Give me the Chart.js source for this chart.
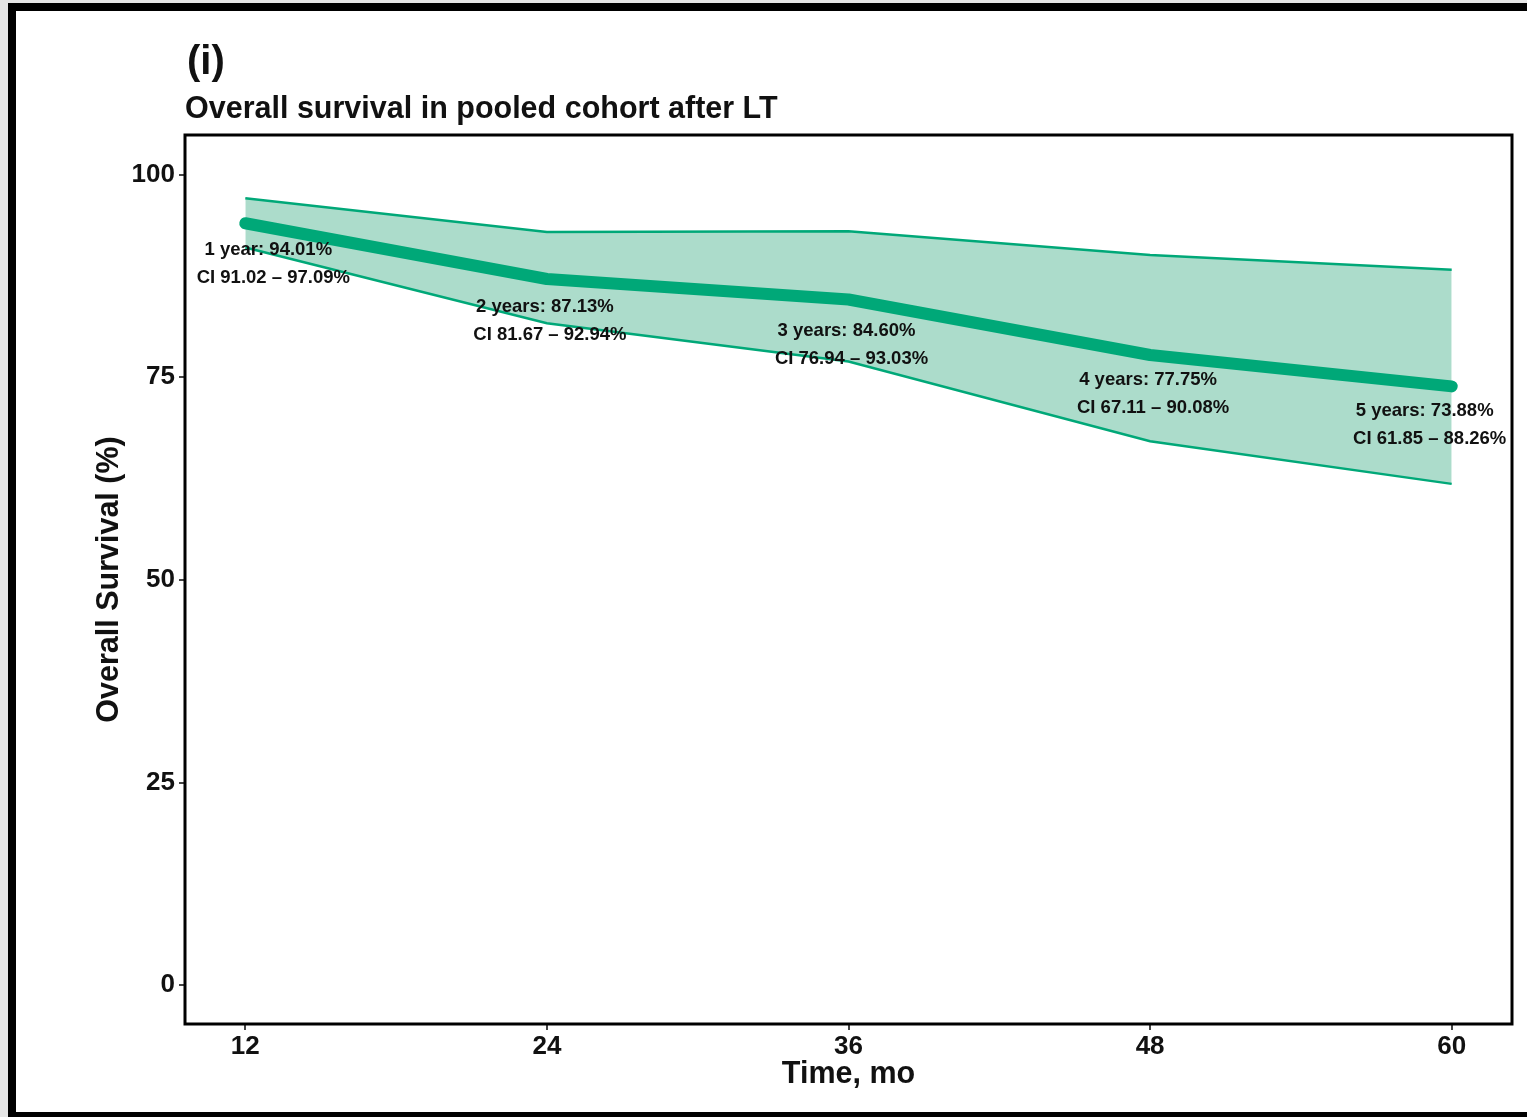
<!DOCTYPE html>
<html>
<head>
<meta charset="utf-8">
<script src="https://cdn.jsdelivr.net/npm/chart.js@4"></script>
<style>
    body { margin: 0; background: #e6e6e6; overflow: hidden; width: 1527px; height: 1117px; }
    .frame { position: absolute; left: 8px; top: 3px; width: 1600px; height: 1101px; border: 8px solid #000; background: #fff; }
    #survChart { position: absolute; left: 0; top: 0; }
</style>
</head>
<body>
<div class="frame"></div>
<canvas id="survChart" width="1527" height="1117"></canvas>
<script>
// data
var months = [12, 24, 36, 48, 60];
var survival = [94.01, 87.13, 84.60, 77.75, 73.88];
var ciLower = [91.02, 81.67, 76.94, 67.11, 61.85];
var ciUpper = [97.09, 92.94, 93.03, 90.08, 88.26];
var periodNames = ['1 year', '2 years', '3 years', '4 years', '5 years'];
var xTicks = [12, 24, 36, 48, 60];
var yTicks = [0, 25, 50, 75, 100];

var green = '#00a878';
var band = '#acdccb';
var font = "'Liberation Sans', Arial, Helvetica, sans-serif";

function pts(values) {
    return months.map(function(m, i) { return { x: m, y: values[i] }; });
}

// titles, axis titles, frame and point labels
var extras = {
    id: 'extras',
    afterDraw: function(chart) {
        var c = chart.ctx;
        var a = chart.chartArea;
        var xs = chart.scales.x, ys = chart.scales.y;
        c.save();
        c.fillStyle = '#111';

        c.textAlign = 'left';
        c.textBaseline = 'alphabetic';
        c.font = 'bold 40px ' + font;
        c.fillText('(i)', 187, 74);
        c.font = 'bold 30.5px ' + font;
        c.fillText('Overall survival in pooled cohort after LT', 185, 118);

        c.textAlign = 'center';
        c.textBaseline = 'middle';
        c.font = 'bold 30.5px ' + font;
        c.fillText('Time, mo', (a.left + a.right) / 2, 1075);
        c.save();
        c.translate(110, (a.top + a.bottom) / 2);
        c.rotate(-Math.PI / 2);
        c.fillText('Overall Survival (%)', 0, 0);
        c.restore();

        // point labels (small nudges so they sit as in the figure)
        var nudgeX = [25, 0, 0, 0, -25];
        var nudgeY = [0, 1, 4, -2, -2];
        c.font = 'bold 18.5px ' + font;
        months.forEach(function(m, i) {
            var px = xs.getPixelForValue(m) + nudgeX[i];
            var py = ys.getPixelForValue(survival[i]) + nudgeY[i];
            c.fillText(periodNames[i] + ': ' + survival[i].toFixed(2) + '%', px - 2, py + 27);
            c.fillText('CI ' + ciLower[i].toFixed(2) + ' \u2013 ' + ciUpper[i].toFixed(2) + '%', px + 3, py + 55);
        });

        // panel border
        c.strokeStyle = '#000';
        c.lineWidth = 3;
        c.strokeRect(a.left, a.top, a.right - a.left, a.bottom - a.top);
        c.restore();
    }
};

var ctx = document.getElementById('survChart').getContext('2d');

var chart = new Chart(ctx, {
    type: 'line',
    data: {
        datasets: [{
            label: 'Survival',
            data: pts(survival),
            borderColor: green,
            borderWidth: 12,
            borderCapStyle: 'round',
            borderJoinStyle: 'round',
            pointRadius: 0,
            fill: false
        },
        {
            label: 'Lower CI',
            data: pts(ciLower),
            borderColor: green,
            borderWidth: 2.5,
            pointRadius: 0,
            fill: false
        },
        {
            label: 'Upper CI',
            data: pts(ciUpper),
            borderColor: green,
            borderWidth: 2.5,
            pointRadius: 0,
            backgroundColor: band,
            fill: 1
        }]
    },
    options: {
        responsive: false,
        animation: false,
        layout: { padding: { top: 135, right: 15, left: 0, bottom: 0 } },
        plugins: {
            legend: { display: false },
            tooltip: { enabled: false }
        },
        scales: {
            x: {
                type: 'linear',
                min: 9.6,
                max: 62.4,
                afterBuildTicks: function(axis) {
                    axis.ticks = xTicks.map(function(v) { return { value: v }; });
                },
                afterFit: function(axis) { axis.height = 93; },
                border: { display: false },
                grid: { drawOnChartArea: false, drawTicks: true, tickLength: 6, color: '#444', lineWidth: 2 },
                ticks: { color: '#111', padding: 1, maxRotation: 0, font: { family: font, size: 26, weight: 'bold' } }
            },
            y: {
                min: -4.8,
                max: 104.9,
                afterBuildTicks: function(axis) {
                    axis.ticks = yTicks.map(function(v) { return { value: v }; });
                },
                afterFit: function(axis) { axis.width = 185; },
                border: { display: false },
                grid: { drawOnChartArea: false, drawTicks: true, tickLength: 6, color: '#444', lineWidth: 2 },
                ticks: { color: '#111', padding: 4, font: { family: font, size: 26, weight: 'bold' } }
            }
        }
    },
    plugins: [extras]
});
</script>
</body>
</html>
